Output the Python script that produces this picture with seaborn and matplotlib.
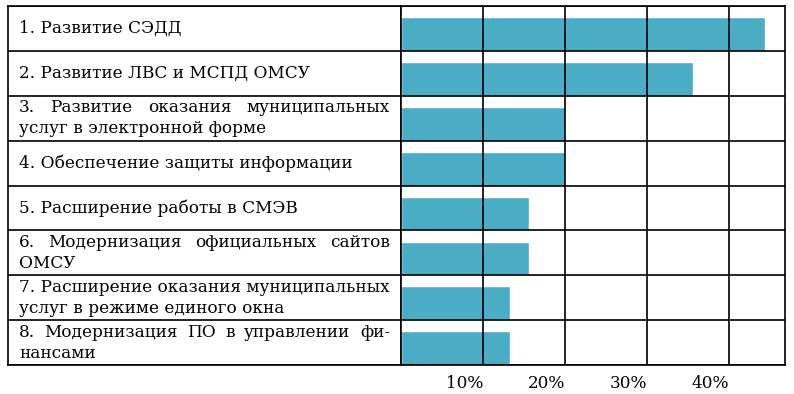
import numpy as np
import pandas as pd
import seaborn as sns
import matplotlib.pyplot as plt

# data
labels = [
    "1. Развитие СЭДД",
    "2. Развитие ЛВС и МСПД ОМСУ",
    "3. Развитие оказания муниципальных\nуслуг в электронной форме",
    "4. Обеспечение защиты информации",
    "5. Расширение работы в СМЭВ",
    "6. Модернизация официальных сайтов\nОМСУ",
    "7. Расширение оказания муниципальных\nуслуг в режиме единого окна",
    "8. Модернизация ПО в управлении фи-\nнансами",
]
justify_first = [False, False, True, False, False, True, False, True]
shares = [44.4, 35.6, 20.0, 20.0, 15.6, 15.6, 13.3, 13.3]
ticks = [10, 20, 30, 40]
tick_labels = ["10%", "20%", "30%", "40%"]

sns.set_style("white")
plt.rcParams['font.family'] = ['DejaVu Serif']
plt.rcParams['text.color'] = 'black'
plt.rcParams['xtick.color'] = 'black'

W, H = 794, 394
top, bottom, left, mid, right = 6, 365, 8, 401, 785
fig = plt.figure(figsize=(W / 100, H / 100), dpi=100)
ax_l = fig.add_axes([left / W, 1 - bottom / H, (mid - left) / W, (bottom - top) / H])
ax = fig.add_axes([mid / W, 1 - bottom / H, (right - mid) / W, (bottom - top) / H])

df = pd.DataFrame({"label": labels, "share": shares})
sns.barplot(data=df, x="share", y="label", orient="h", color="#4BACC6",
            saturation=1, width=0.75, ax=ax, zorder=1)

n = len(labels)
lw = 1.2
for a in (ax, ax_l):
    a.set_ylim(n - 1 + 0.375, -0.625)
    for k in range(-1, n):
        a.axhline(k + 0.375, color="black", lw=lw, zorder=3)
    for s in a.spines.values():
        s.set_color("black")
        s.set_linewidth(lw)
    a.set_yticks([])
    a.set_ylabel("")
    a.set_xlabel("")

ax.set_xlim(0, 46.8)
for t in ticks:
    ax.axvline(t, color="black", lw=lw, zorder=3)
ax.set_xticks(ticks)
ax.set_xticklabels(tick_labels, ha="right")
ax.tick_params(axis="x", length=0, pad=7, labelcolor="black")

ax_l.set_xlim(0, 1)
ax_l.set_xticks([])

# font size fitted to the widest natural line
renderer = fig.canvas.get_renderer()
probe = ax_l.text(0, 0, "7. Расширение оказания муниципальных", fontsize=10)
w10 = probe.get_window_extent(renderer).width
probe.remove()
fs = 10 * 371 / w10
for lab in ax.get_xticklabels():
    lab.set_fontsize(fs)

ax_w = mid - left
x0 = (19 - left) / ax_w
row_px = (bottom - top) / n
gap = 21 / row_px

for i, (lab, just) in enumerate(zip(labels, justify_first)):
    lines = lab.split("\n")
    c = i - 0.125
    ys = [c] if len(lines) == 1 else [c - gap / 2, c + gap / 2]
    for j, (line, y) in enumerate(zip(lines, ys)):
        if j == 0 and just:
            words = line.split()
            objs = [ax_l.text(0, y, w, fontsize=fs, va="center", color="black") for w in words]
            widths = [o.get_window_extent(renderer).width for o in objs]
            space = ((390 - 19) - sum(widths)) / (len(words) - 1)
            xp = 19 - left
            for o, wd in zip(objs, widths):
                o.set_x(xp / ax_w)
                xp += wd + space
        else:
            ax_l.text(x0, y, line, fontsize=fs, va="center", color="black")

fig.savefig("out.png", dpi=100)
